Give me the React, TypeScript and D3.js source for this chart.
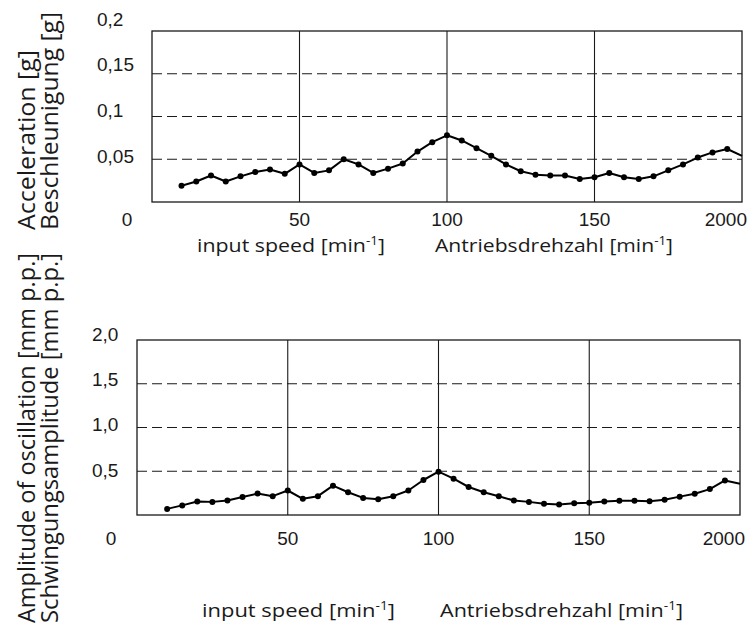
import React from "react";
import * as d3 from "d3";

// input speed [min-1] at each measured point
const speeds = [
  10, 15, 20, 25, 30, 35, 40, 45, 50, 55, 60, 65, 70, 75, 80, 85, 90, 95, 100,
  105, 110, 115, 120, 125, 130, 135, 140, 145, 150, 155, 160, 165, 170, 175,
  180, 185, 190, 195,
];

// acceleration [g]
const acceleration = [
  0.019, 0.024, 0.031, 0.024, 0.030, 0.035, 0.038, 0.033, 0.044, 0.034, 0.037,
  0.050, 0.044, 0.034, 0.039, 0.045, 0.059, 0.070, 0.078, 0.072, 0.063, 0.054,
  0.044, 0.036, 0.032, 0.031, 0.031, 0.027, 0.029, 0.034, 0.029, 0.027, 0.030,
  0.037, 0.044, 0.052, 0.058, 0.062,
];
const accelerationEnd = 0.054; // value at the right edge (200), no dot

// amplitude of oscillation [mm p.p.]
const amplitude = [
  0.07, 0.11, 0.155, 0.15, 0.165, 0.205, 0.245, 0.215, 0.28, 0.185, 0.215,
  0.335, 0.26, 0.195, 0.18, 0.215, 0.28, 0.4, 0.495, 0.415, 0.32, 0.26, 0.215,
  0.165, 0.15, 0.128, 0.12, 0.135, 0.14, 0.155, 0.163, 0.163, 0.158, 0.174,
  0.21, 0.243, 0.296, 0.395,
];
const amplitudeEnd = 0.358;

const xTicks = [50, 100, 150];
const accTicks = [0.05, 0.1, 0.15, 0.2];
const accTickLabels = ["0,05", "0,1", "0,15", "0,2"];
const ampTicks = [0.5, 1.0, 1.5, 2.0];
const ampTickLabels = ["0,5", "1,0", "1,5", "2,0"];

const W = 755;
const H = 630;
const numFont = "'Liberation Sans', Arial, sans-serif";
const textFont = "'Open Sans', 'Noto Sans', sans-serif";
const ink = "#1a1a1a";

type PanelProps = {
  values: number[];
  endValue: number;
  yMax: number;
  yTicks: number[];
  yTickLabels: string[];
  left: number;
  right: number;
  top: number;
  bottom: number;
  labelRange: [number, number]; // y of lowest / highest tick label
  tickRowY: number;
  zeroDx: number;
  yLabelDx: number;
  titleY: number;
  titleLens: [number, number];
  titleX: [number, number];
};

const Panel = (p: PanelProps) => {
  const x = d3.scaleLinear().domain([0, 200]).range([p.left, p.right]);
  const y = d3.scaleLinear().domain([0, p.yMax]).range([p.bottom, p.top]);
  // tick labels sit slightly above their gridlines, spread a bit wider
  const yLab = d3
    .scaleLinear()
    .domain([p.yTicks[0], p.yTicks[p.yTicks.length - 1]])
    .range(p.labelRange);

  const pts: [number, number][] = speeds.map((s, i) => [s, p.values[i]]);
  const line = d3
    .line<[number, number]>()
    .x((d) => x(d[0]))
    .y((d) => y(d[1]));

  const title = (tx: number, len: number, label: string) => (
    <text
      x={tx}
      y={p.titleY}
      fontFamily={textFont}
      fontSize={19}
      fill={ink}
      textLength={len}
      lengthAdjust="spacingAndGlyphs"
    >
      {label} [min
      <tspan dy={-7} fontSize={12}>
        -1
      </tspan>
      <tspan dy={7}>]</tspan>
    </text>
  );

  return (
    <g>
      {/* dashed horizontal grid */}
      {p.yTicks
        .filter((t) => t < p.yMax)
        .map((t) => (
          <line
            key={"h" + t}
            x1={x(0)}
            x2={x(200)}
            y1={y(t)}
            y2={y(t)}
            stroke={ink}
            strokeWidth={1.1}
            strokeDasharray="10,5"
          />
        ))}
      {/* vertical grid */}
      {xTicks.map((t) => (
        <line
          key={"v" + t}
          x1={x(t)}
          x2={x(t)}
          y1={y(p.yMax)}
          y2={y(0)}
          stroke={ink}
          strokeWidth={1.1}
        />
      ))}
      <rect
        x={x(0)}
        y={y(p.yMax)}
        width={x(200) - x(0)}
        height={y(0) - y(p.yMax)}
        fill="none"
        stroke={ink}
        strokeWidth={1.3}
      />

      <path
        d={line([...pts, [200, p.endValue]]) || ""}
        fill="none"
        stroke="#000"
        strokeWidth={2}
        strokeLinejoin="round"
      />
      {pts.map((d) => (
        <circle key={d[0]} cx={x(d[0])} cy={y(d[1])} r={3} fill="#000" />
      ))}

      {/* y tick labels */}
      {p.yTicks.map((t, i) => (
        <text
          key={"yl" + t}
          x={x(0) + p.yLabelDx}
          y={yLab(t)}
          dy="0.35em"
          fontFamily={numFont}
          fontSize={19}
          fill={ink}
        >
          {p.yTickLabels[i]}
        </text>
      ))}

      {/* x tick labels */}
      <text
        x={x(0) + p.zeroDx}
        y={p.tickRowY}
        dy="0.35em"
        textAnchor="middle"
        fontFamily={numFont}
        fontSize={19}
        fill={ink}
      >
        0
      </text>
      {xTicks.map((t) => (
        <text
          key={"xl" + t}
          x={x(t)}
          y={p.tickRowY}
          dy="0.35em"
          textAnchor="middle"
          fontFamily={numFont}
          fontSize={19}
          fill={ink}
        >
          {t}
        </text>
      ))}
      <text
        x={x(200) + 5}
        y={p.tickRowY}
        dy="0.35em"
        textAnchor="end"
        fontFamily={numFont}
        fontSize={19}
        fill={ink}
      >
        2000
      </text>

      {/* x axis titles */}
      {title(p.titleX[0], p.titleLens[0], "input speed")}
      {title(p.titleX[1], p.titleLens[1], "Antriebsdrehzahl")}
    </g>
  );
};

const VTitle = ({
  bx,
  by,
  len,
  text,
}: {
  bx: number;
  by: number;
  len: number;
  text: string;
}) => (
  <text
    transform={`translate(${bx},${by}) rotate(-90)`}
    fontFamily={textFont}
    fontSize={24}
    fill={ink}
    textLength={len}
    lengthAdjust="spacingAndGlyphs"
  >
    {text}
  </text>
);

export default function App() {
  return (
    <svg
      width={W}
      height={H}
      viewBox={`0 0 ${W} ${H}`}
      style={{ position: "absolute", left: 0, top: 0, background: "#fff" }}
    >
      <Panel
        values={acceleration}
        endValue={accelerationEnd}
        yMax={0.2}
        yTicks={accTicks}
        yTickLabels={accTickLabels}
        left={152}
        right={742}
        top={31}
        bottom={202}
        labelRange={[156, 19]}
        tickRowY={219}
        zeroDx={-25}
        yLabelDx={-55}
        titleY={252}
        titleLens={[188, 238]}
        titleX={[197, 435]}
      />
      <Panel
        values={amplitude}
        endValue={amplitudeEnd}
        yMax={2.0}
        yTicks={ampTicks}
        yTickLabels={ampTickLabels}
        left={137}
        right={740}
        top={340}
        bottom={515}
        labelRange={[470, 334]}
        tickRowY={538}
        zeroDx={-26}
        yLabelDx={-45}
        titleY={617}
        titleLens={[193, 243]}
        titleX={[202, 440]}
      />
      <VTitle bx={35} by={230} len={180} text="Acceleration [g]" />
      <VTitle bx={58} by={230} len={218} text="Beschleunigung [g]" />
      <VTitle bx={35} by={623} len={370} text="Amplitude of oscillation [mm p.p.]" />
      <VTitle bx={58} by={623} len={370} text="Schwingungsamplitude [mm p.p.]" />
    </svg>
  );
}
